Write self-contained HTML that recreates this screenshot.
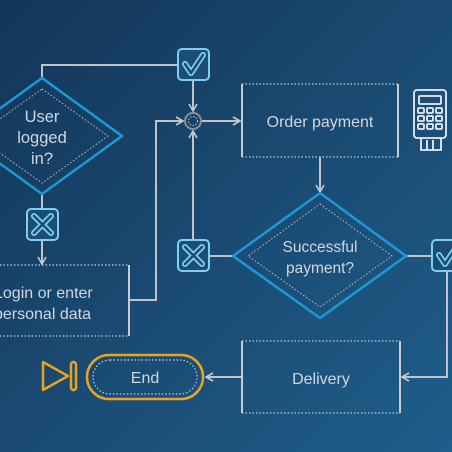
<!DOCTYPE html><html><head><style>html,body{margin:0;padding:0}body{width:452px;height:452px;overflow:hidden;background:linear-gradient(135deg,#143558 0%,#1a4a72 50%,#1e5e8a 100%)}svg{display:block}</style></head><body>
<svg width="452" height="452" viewBox="0 0 452 452" xmlns="http://www.w3.org/2000/svg" font-family="Liberation Sans, sans-serif">
<defs><marker id="a" markerWidth="10" markerHeight="10" refX="8" refY="5" orient="auto" markerUnits="userSpaceOnUse"><path d="M1,1 L8,5 L1,9" fill="none" stroke="#c8ccd2" stroke-width="1.6"/></marker></defs>
<g fill="none" stroke="#c0c4ca" stroke-width="2">
<path d="M42,78 V65 H177"/>
<path d="M193,80 V111" marker-end="url(#a)"/>
<path d="M202,121 H240" marker-end="url(#a)"/>
<path d="M129,300 H156 V121 H183" marker-end="url(#a)"/>
<path d="M320,157 V192" marker-end="url(#a)"/>
<path d="M209,256 H233"/>
<path d="M193,240 V131" marker-end="url(#a)"/>
<path d="M406,256 H431"/>
<path d="M447,272 V377 H402" marker-end="url(#a)"/>
<path d="M242,377 H206" marker-end="url(#a)"/>
<path d="M42,194 V208"/>
<path d="M42,240 V264" marker-end="url(#a)"/>
</g>
<circle cx="193" cy="121" r="8" fill="#1a4068" stroke="#8a8e96" stroke-width="2"/>
<circle cx="193" cy="121" r="4.5" fill="none" stroke="#c0c4ca" stroke-width="1" stroke-dasharray="1.5 1.5"/>
<path d="M42,78 L122,136 L42,194 L-38,136 Z" fill="none" stroke="#1c9ad8" stroke-width="2.5"/>
<path d="M42,89 L108,136 L42,183 L-24,136 Z" fill="none" stroke="#b8c0c8" stroke-width="1" stroke-dasharray="1.5 2"/>
<g fill="#d0d6de" font-size="16.5" text-anchor="middle"><text x="42" y="122">User</text><text x="42" y="143">logged</text><text x="42" y="164">in?</text></g>
<path d="M320,193 L406,256 L320,318 L233,256 Z" fill="none" stroke="#1c9ad8" stroke-width="2.5"/>
<path d="M320,204 L392,256 L320,307 L248,256 Z" fill="none" stroke="#b8c0c8" stroke-width="1" stroke-dasharray="1.5 2"/>
<g fill="#d0d6de" font-size="15.5" text-anchor="middle"><text x="320" y="252">Successful</text><text x="320" y="273">payment?</text></g>
<g fill="none" stroke="#c8ccd2">
<path d="M242,84 V157 M398,84 V157" stroke-width="2"/>
<path d="M242,84 H398 M242,157 H398" stroke-width="1.2" stroke-dasharray="1.5 2"/>
<path d="M242,341 V413 M400,341 V413" stroke-width="2"/>
<path d="M242,341 H400 M242,413 H400" stroke-width="1.2" stroke-dasharray="1.5 2"/>
<path d="M129,265 V336" stroke-width="2"/>
<path d="M0,265 H129 M0,336 H129" stroke-width="1.2" stroke-dasharray="1.5 2"/>
</g>
<g fill="#d0d6de" font-size="16"><text x="320" y="127" text-anchor="middle">Order payment</text><text x="321" y="384" text-anchor="middle">Delivery</text><text x="-6" y="298">Login or enter</text><text x="-6" y="319">personal data</text><text x="145" y="383" text-anchor="middle">End</text></g>
<rect x="87" y="355" width="116" height="44" rx="22" fill="none" stroke="#e8a422" stroke-width="2.5"/>
<rect x="93" y="360" width="104" height="34" rx="17" fill="none" stroke="#c8ccd2" stroke-width="1.2" stroke-dasharray="1.5 2"/>
<path d="M43,362 L43,390 L68,376 Z" fill="none" stroke="#e8a422" stroke-width="2.5" stroke-linejoin="round"/>
<rect x="71" y="362" width="5" height="28" rx="2.5" fill="none" stroke="#e8a422" stroke-width="2.5"/>
<g stroke="#7fd0f0" stroke-width="2" fill="#1c4d76">
<rect x="178" y="49" width="31" height="31" rx="4"/>
<rect x="27" y="209" width="31" height="31" rx="4"/>
<rect x="178" y="240" width="31" height="31" rx="4"/>
<rect x="432" y="240" width="31" height="31" rx="4"/>
</g>
<g fill="none" stroke="#7fd0f0" stroke-width="6" stroke-linecap="round" stroke-linejoin="round">
<path d="M185,64 L191,73 L203,55"/><path d="M439,255 L445,264 L457,246"/>
<path d="M34,216 L51,233 M51,216 L34,233"/><path d="M185,247 L202,264 M202,247 L185,264"/>
</g>
<g fill="none" stroke="#1c4d76" stroke-width="2.5" stroke-linecap="round" stroke-linejoin="round">
<path d="M185,64 L191,73 L203,55"/><path d="M439,255 L445,264 L457,246"/>
<path d="M34,216 L51,233 M51,216 L34,233"/><path d="M185,247 L202,264 M202,247 L185,264"/>
</g>
<g fill="none" stroke="#e8eef4" stroke-width="1.8">
<rect x="414" y="90" width="32" height="48" rx="3"/>
<rect x="419" y="96" width="22" height="8" rx="1"/>
<rect x="418" y="108" width="6" height="5" rx="1"/><rect x="427" y="108" width="6" height="5" rx="1"/><rect x="436" y="108" width="6" height="5" rx="1"/>
<rect x="418" y="116" width="6" height="5" rx="1"/><rect x="427" y="116" width="6" height="5" rx="1"/><rect x="436" y="116" width="6" height="5" rx="1"/>
<rect x="418" y="124" width="6" height="5" rx="1"/><rect x="427" y="124" width="6" height="5" rx="1"/><rect x="436" y="124" width="6" height="5" rx="1"/>
<path d="M421,138 V150 H441 V138 M427,140 V150 M433,140 V150"/>
</g>
</svg></body></html>
